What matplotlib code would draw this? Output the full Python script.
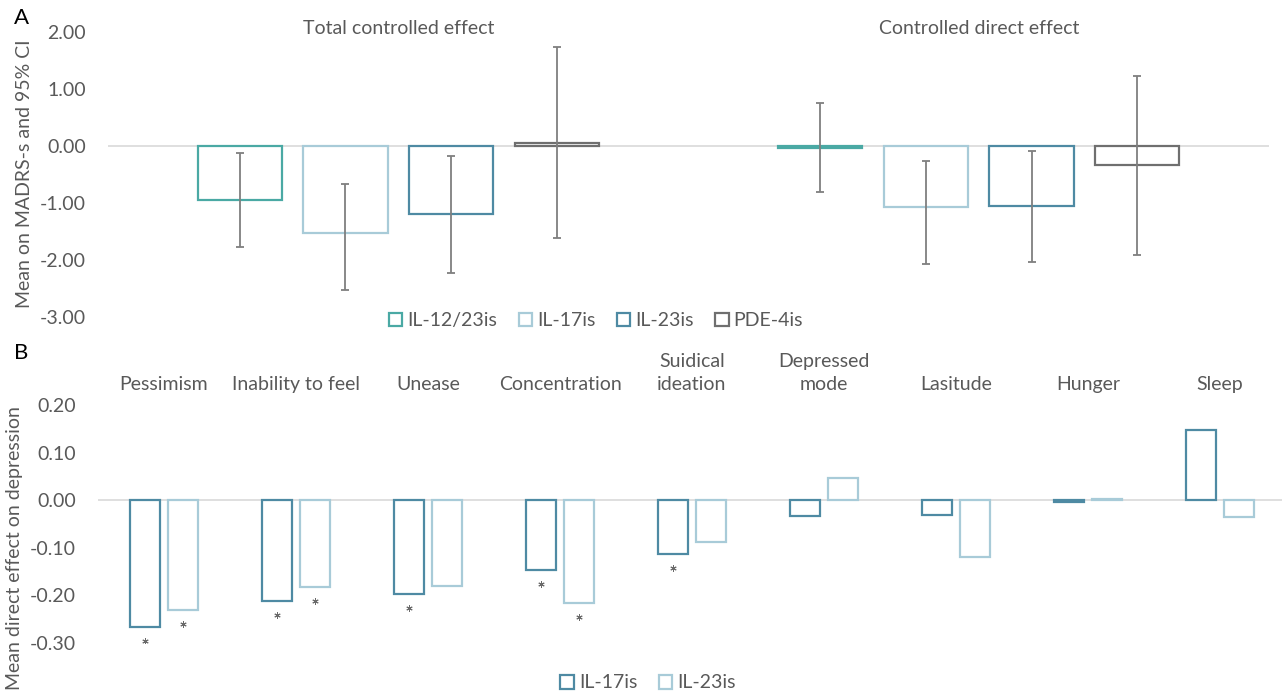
import matplotlib
matplotlib.use("Agg")
import matplotlib.pyplot as plt
from matplotlib.patches import Patch
from matplotlib.transforms import blended_transform_factory, offset_copy
import numpy as np

plt.rcParams['font.family'] = ['Lato', 'DejaVu Sans']

# ---------------- data ----------------
a_categories = ['Total controlled effect', 'Controlled direct effect']
a_series = ['IL-12/23is', 'IL-17is', 'IL-23is', 'PDE-4is']
a_il1223 = [-0.95, -0.04]
a_il17 = [-1.53, -1.07]
a_il23 = [-1.20, -1.06]
a_pde4 = [0.05, -0.34]
a_il1223_lo = [-1.78, -0.81]
a_il1223_hi = [-0.12, 0.75]
a_il17_lo = [-2.53, -2.07]
a_il17_hi = [-0.66, -0.27]
a_il23_lo = [-2.22, -2.03]
a_il23_hi = [-0.17, -0.09]
a_pde4_lo = [-1.62, -1.91]
a_pde4_hi = [1.73, 1.22]
a_yticks = [2.0, 1.0, 0.0, -1.0, -2.0, -3.0]

b_categories = ['Pessimism', 'Inability to feel', 'Unease', 'Concentration',
                'Suidical\nideation', 'Depressed\nmode', 'Lasitude', 'Hunger', 'Sleep']
b_series = ['IL-17is', 'IL-23is']
b_il17 = [-0.266, -0.211, -0.198, -0.147, -0.113, -0.034, -0.032, -0.004, 0.148]
b_il23 = [-0.231, -0.183, -0.181, -0.217, -0.087, 0.046, -0.120, 0.003, -0.035]
b_il17_sig = [True, True, True, True, True, False, False, False, False]
b_il23_sig = [True, True, False, True, False, False, False, False, False]
b_yticks = [0.2, 0.1, 0.0, -0.1, -0.2, -0.3]

# ---------------- style ----------------
W, H = 1282, 695
TXT = '#595959'
C_TEAL = '#4AA9A4'
C_LIGHT = '#A8CBD8'
C_STEEL = '#4E8AA3'
C_GRAY = '#6F6F6F'
ERR = '#7F7F7F'
FS = 14

fig = plt.figure(figsize=(W / 100, H / 100), dpi=100)


def axes_px(left, right, top, bottom):
    return fig.add_axes([left / W, 1 - bottom / H, (right - left) / W, (bottom - top) / H])


def clean(ax):
    for s in ax.spines.values():
        s.set_visible(False)
    ax.tick_params(axis='both', length=0, colors=TXT, labelsize=FS)
    ax.set_xticks([])


# ---------------- Panel A ----------------
axA = axes_px(108, 1269, 32, 317)
clean(axA)
axA.set_xlim(-0.5, 1.5)
axA.set_ylim(-3, 2)
axA.set_yticks(a_yticks)
axA.set_yticklabels([f'{v:.2f}' for v in a_yticks])
axA.tick_params(axis='y', pad=16)
axA.axhline(0, color='#D9D9D9', lw=1.2, zorder=1)

a_vals = [a_il1223, a_il17, a_il23, a_pde4]
a_lo = [a_il1223_lo, a_il17_lo, a_il23_lo, a_pde4_lo]
a_hi = [a_il1223_hi, a_il17_hi, a_il23_hi, a_pde4_hi]
a_cols = [C_TEAL, C_LIGHT, C_STEEL, C_GRAY]
xa = np.arange(len(a_categories))
for j in range(4):
    xs = xa + (j - 1.5) * 0.182
    vals = np.array(a_vals[j])
    axA.bar(xs, vals, width=0.145, facecolor='white', edgecolor=a_cols[j],
            linewidth=1.6, zorder=2)
    yerr = np.vstack([vals - np.array(a_lo[j]), np.array(a_hi[j]) - vals])
    axA.errorbar(xs, vals, yerr=yerr, fmt='none', ecolor=ERR, elinewidth=1.3,
                 capsize=3, capthick=1.3, zorder=3)

trA = blended_transform_factory(axA.transData, axA.transAxes)
for i, c in enumerate(a_categories):
    axA.text(i, 1 + 4 / 285, c, transform=trA, ha='center', va='center',
             fontsize=FS, color=TXT)

fig.text(25 / W, 1 - 174 / H, 'Mean on MADRS-s and 95% CI', rotation=90,
         ha='center', va='center', fontsize=FS, color=TXT)

handlesA = [Patch(facecolor='white', edgecolor=c, linewidth=1.6) for c in a_cols]
fig.legend(handlesA, a_series, loc='center', bbox_to_anchor=(596 / W, 1 - 321 / H),
           ncol=4, frameon=False, fontsize=FS, labelcolor=TXT, handlelength=0.7,
           handleheight=0.7, handletextpad=0.25, columnspacing=1.1)

# ---------------- Panel B ----------------
axB = axes_px(98, 1286, 405, 643)
clean(axB)
axB.set_xlim(-0.5, 8.5)
axB.set_ylim(-0.3, 0.2)
axB.set_yticks(b_yticks)
axB.set_yticklabels([f'{v:.2f}' for v in b_yticks])
axB.tick_params(axis='y', pad=16)
axB.axhline(0, color='#D9D9D9', lw=1.2, zorder=1)

xb = np.arange(len(b_categories))
b_vals = [b_il17, b_il23]
b_sig = [b_il17_sig, b_il23_sig]
b_cols = [C_STEEL, C_LIGHT]
star_tr = offset_copy(axB.transData, fig=fig, x=0, y=-14, units='dots')
for j in range(2):
    xs = xb + (j - 0.5) * 0.288
    vals = np.array(b_vals[j])
    axB.bar(xs, vals, width=0.227, facecolor='white', edgecolor=b_cols[j],
            linewidth=1.6, zorder=2)
    sig = np.array(b_sig[j])
    axB.plot(xs[sig], vals[sig], linestyle='none', marker=(6, 2, 0), markersize=4.5,
             markeredgewidth=0.7, color='#6A6A6A', transform=star_tr, zorder=3)

trB = blended_transform_factory(axB.transData, axB.transAxes)
for i, c in enumerate(b_categories):
    axB.text(i, 1 + (405 - 393) / 238, c, transform=trB, ha='center', va='bottom',
             fontsize=FS, color=TXT, linespacing=1.4)

fig.text(15 / W, 1 - 548 / H, 'Mean direct effect on depression', rotation=90,
         ha='center', va='center', fontsize=FS, color=TXT)

handlesB = [Patch(facecolor='white', edgecolor=c, linewidth=1.6) for c in b_cols]
fig.legend(handlesB, b_series, loc='center', bbox_to_anchor=(648 / W, 1 - 683 / H),
           ncol=2, frameon=False, fontsize=FS, labelcolor=TXT, handlelength=0.7,
           handleheight=0.7, handletextpad=0.25, columnspacing=1.1)

# panel letters
fig.text(14 / W, 1 - 18 / H, 'A', ha='left', va='center', fontsize=16, color='black')
fig.text(14 / W, 1 - 353 / H, 'B', ha='left', va='center', fontsize=16, color='black')

fig.savefig('out.png', dpi=100)
